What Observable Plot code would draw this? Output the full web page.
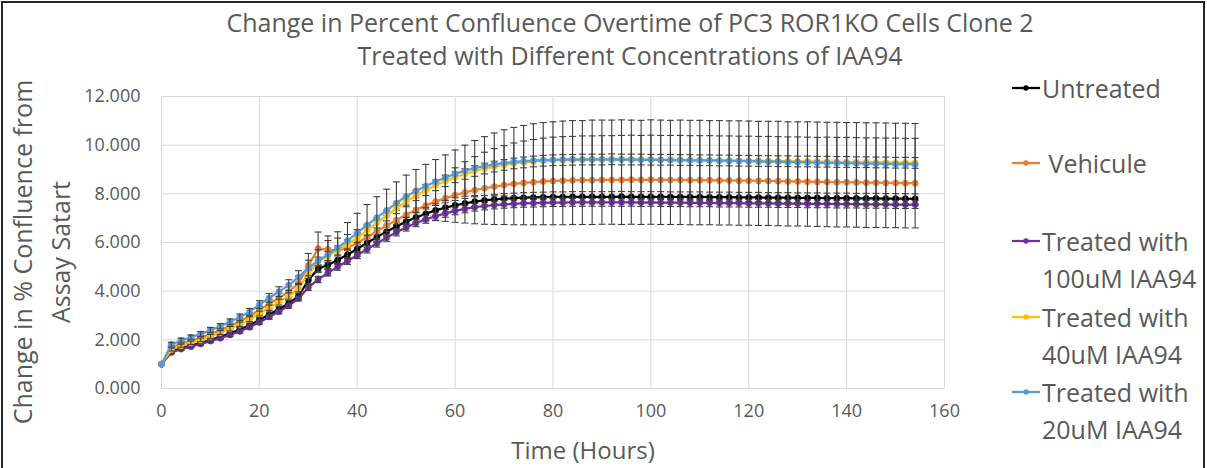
<!DOCTYPE html>
<html><head><meta charset="utf-8">
<script src="https://cdn.jsdelivr.net/npm/d3@7"></script>
<script src="https://cdn.jsdelivr.net/npm/@observablehq/plot@0.6"></script>
<style>
html,body{margin:0;padding:0;background:#fff;}
#wrap{position:relative;width:1207px;height:468px;overflow:hidden;font-family:"Open Sans",sans-serif;color:#595959;background:#fff;}
#frame{position:absolute;left:1px;top:1px;width:1204px;height:480px;border:2px solid #262626;box-sizing:border-box;pointer-events:none;}
#chart{position:absolute;left:0;top:0;}
.title{position:absolute;left:0;width:1260px;text-align:center;font-size:25px;white-space:nowrap;line-height:30px;}
#xtitle{position:absolute;left:383px;width:400px;top:437px;text-align:center;font-size:24px;line-height:26px;}
#ytitle{position:absolute;left:-169px;top:214px;width:420px;height:76px;transform:rotate(-90deg);text-align:center;font-size:25px;line-height:38px;white-space:nowrap;}
.leg{position:absolute;left:1042px;font-size:25px;line-height:37px;white-space:nowrap;}
.sw{position:absolute;left:1012px;}
</style></head>
<body>
<div id="wrap">
  <div id="chart"></div>
  <div class="title" style="top:7px">Change in Percent Confluence Overtime of PC3 ROR1KO Cells Clone 2</div>
  <div class="title" style="top:40px">Treated with Different Concentrations of IAA94</div>
  <div id="ytitle">Change in % Confluence from<br>Assay Satart</div>
  <div id="xtitle">Time (Hours)</div>
  <div id="legend"></div>
  <div id="frame"></div>
</div>
<script>
const hours = [0,2,4,6,8,10,12,14,16,18,20,22,24,26,28,30,32,34,36,38,40,42,44,46,48,50,52,54,56,58,60,62,64,66,68,70,72,74,76,78,80,82,84,86,88,90,92,94,96,98,100,102,104,106,108,110,112,114,116,118,120,122,124,126,128,130,132,134,136,138,140,142,144,146,148,150,152,154];

const untreated = [1.00,1.52,1.66,1.76,1.87,1.99,2.12,2.26,2.42,2.60,
 2.82,3.04,3.26,3.50,3.80,4.45,4.92,5.08,5.28,5.50,
 5.74,5.98,6.22,6.45,6.66,6.86,7.03,7.18,7.32,7.43,
 7.53,7.61,7.68,7.73,7.77,7.80,7.82,7.84,7.85,7.86,
 7.87,7.87,7.88,7.88,7.88,7.88,7.88,7.89,7.88,7.88,
 7.88,7.88,7.87,7.87,7.87,7.87,7.86,7.86,7.86,7.85,
 7.85,7.85,7.84,7.84,7.84,7.83,7.83,7.83,7.82,7.82,
 7.82,7.81,7.81,7.81,7.80,7.80,7.80,7.79];
const vehicule = [1.00,1.68,1.84,1.96,2.09,2.24,2.40,2.57,2.76,2.98,
 3.22,3.48,3.72,3.98,4.32,5.05,5.75,5.72,5.66,5.78,
 5.98,6.22,6.46,6.70,6.92,7.14,7.34,7.52,7.68,7.82,
 7.95,8.06,8.15,8.23,8.30,8.36,8.41,8.45,8.48,8.51,
 8.53,8.54,8.55,8.56,8.56,8.57,8.57,8.57,8.58,8.57,
 8.58,8.57,8.57,8.57,8.56,8.56,8.56,8.55,8.55,8.54,
 8.54,8.53,8.53,8.52,8.51,8.51,8.50,8.49,8.49,8.48,
 8.48,8.47,8.46,8.46,8.45,8.45,8.44,8.44];
const iaa100 = [1.00,1.48,1.62,1.72,1.83,1.95,2.07,2.20,2.35,2.52,
 2.72,2.94,3.16,3.40,3.70,4.15,4.48,4.75,5.00,5.24,
 5.48,5.72,5.96,6.20,6.42,6.62,6.80,6.95,7.08,7.20,
 7.30,7.38,7.45,7.50,7.54,7.57,7.59,7.61,7.62,7.63,
 7.64,7.64,7.65,7.65,7.65,7.65,7.65,7.65,7.65,7.64,
 7.65,7.64,7.64,7.64,7.63,7.63,7.63,7.62,7.62,7.62,
 7.61,7.61,7.61,7.60,7.60,7.60,7.59,7.59,7.59,7.58,
 7.58,7.58,7.57,7.57,7.57,7.56,7.56,7.56];
const iaa40 = [1.00,1.60,1.76,1.88,2.00,2.14,2.30,2.46,2.64,2.85,
 3.08,3.32,3.55,3.80,4.12,4.70,5.22,5.45,5.68,5.92,
 6.20,6.50,6.80,7.10,7.40,7.68,7.93,8.15,8.35,8.52,
 8.68,8.82,8.94,9.04,9.12,9.19,9.25,9.29,9.33,9.36,
 9.38,9.39,9.40,9.41,9.41,9.41,9.42,9.41,9.41,9.41,
 9.40,9.40,9.40,9.39,9.39,9.38,9.38,9.37,9.37,9.36,
 9.36,9.35,9.35,9.34,9.34,9.33,9.33,9.32,9.32,9.31,
 9.31,9.30,9.30,9.29,9.29,9.28,9.28,9.27];
const iaa20 = [1.00,1.80,1.97,2.10,2.24,2.40,2.56,2.74,2.93,3.15,
 3.45,3.72,3.98,4.25,4.58,4.95,5.25,5.50,5.78,6.08,
 6.40,6.72,7.02,7.32,7.62,7.90,8.12,8.32,8.50,8.66,
 8.82,8.95,9.06,9.14,9.21,9.27,9.31,9.34,9.37,9.39,
 9.40,9.41,9.42,9.41,9.42,9.42,9.41,9.42,9.41,9.40,
 9.41,9.40,9.39,9.39,9.38,9.38,9.37,9.36,9.35,9.35,
 9.34,9.33,9.32,9.32,9.30,9.30,9.29,9.28,9.27,9.27,
 9.26,9.25,9.24,9.24,9.23,9.22,9.22,9.21];

// standard deviations (error bars)
const untreatedSD = [0.00,0.05,0.05,0.06,0.06,0.06,0.07,0.07,0.08,0.08,
 0.09,0.10,0.10,0.11,0.12,0.15,0.16,0.16,0.17,0.17,
 0.18,0.18,0.18,0.19,0.19,0.19,0.19,0.20,0.20,0.20,
 0.20,0.20,0.20,0.20,0.21,0.21,0.21,0.21,0.21,0.21,
 0.21,0.21,0.21,0.21,0.21,0.21,0.21,0.21,0.21,0.21,
 0.21,0.21,0.21,0.21,0.21,0.21,0.21,0.21,0.21,0.21,
 0.21,0.21,0.21,0.21,0.21,0.21,0.21,0.21,0.21,0.21,
 0.21,0.21,0.21,0.21,0.21,0.21,0.21,0.21];
const vehiculeSD = [0.00,0.08,0.08,0.09,0.09,0.10,0.10,0.11,0.12,0.13,
 0.15,0.17,0.19,0.22,0.30,0.50,0.68,0.55,0.52,0.55,
 0.55,0.50,0.45,0.42,0.40,0.40,0.50,0.62,0.78,0.95,
 1.12,1.26,1.38,1.48,1.56,1.62,1.68,1.72,1.75,1.78,
 1.80,1.81,1.81,1.82,1.82,1.82,1.82,1.83,1.83,1.83,
 1.83,1.83,1.83,1.83,1.83,1.83,1.83,1.83,1.83,1.83,
 1.83,1.83,1.83,1.83,1.83,1.83,1.83,1.83,1.84,1.84,
 1.84,1.84,1.84,1.84,1.84,1.84,1.84,1.84];
const iaa100SD = [0.00,0.05,0.05,0.05,0.06,0.06,0.06,0.07,0.07,0.08,
 0.08,0.09,0.09,0.10,0.10,0.12,0.13,0.13,0.14,0.14,
 0.14,0.15,0.15,0.15,0.15,0.15,0.15,0.16,0.16,0.16,
 0.16,0.16,0.16,0.16,0.16,0.16,0.16,0.16,0.16,0.16,
 0.16,0.16,0.16,0.16,0.16,0.16,0.16,0.16,0.16,0.16,
 0.16,0.16,0.16,0.16,0.16,0.16,0.16,0.16,0.16,0.16,
 0.16,0.16,0.16,0.16,0.16,0.16,0.16,0.16,0.16,0.16,
 0.16,0.16,0.16,0.16,0.16,0.16,0.16,0.16];
const iaa40SD = [0.00,0.06,0.06,0.07,0.07,0.08,0.08,0.09,0.09,0.10,
 0.10,0.11,0.12,0.13,0.15,0.18,0.18,0.18,0.19,0.19,
 0.20,0.20,0.20,0.21,0.21,0.21,0.21,0.22,0.22,0.22,
 0.22,0.22,0.22,0.22,0.22,0.22,0.22,0.22,0.22,0.22,
 0.22,0.22,0.22,0.22,0.22,0.22,0.22,0.22,0.22,0.22,
 0.22,0.22,0.22,0.22,0.22,0.22,0.22,0.22,0.22,0.22,
 0.22,0.22,0.22,0.22,0.22,0.22,0.22,0.22,0.22,0.22,
 0.22,0.22,0.22,0.22,0.22,0.22,0.22,0.22];
const iaa20SD = [0.00,0.10,0.10,0.10,0.10,0.11,0.11,0.12,0.13,0.14,
 0.16,0.18,0.20,0.22,0.26,0.32,0.45,0.58,0.66,0.74,
 0.80,0.84,0.86,0.87,0.87,0.87,0.88,0.89,0.91,0.94,
 0.98,1.05,1.13,1.21,1.29,1.36,1.42,1.47,1.51,1.54,
 1.56,1.58,1.59,1.60,1.61,1.61,1.62,1.62,1.62,1.62,
 1.63,1.63,1.63,1.64,1.64,1.64,1.64,1.65,1.65,1.65,
 1.65,1.65,1.66,1.66,1.66,1.66,1.67,1.67,1.67,1.67,
 1.67,1.68,1.68,1.68,1.68,1.68,1.68,1.68];

const seriesNames = ["Untreated", " Vehicule", "Treated with 100uM IAA94", "Treated with 40uM IAA94", "Treated with 20uM IAA94"];
const legendLines = [["Untreated"], ["\u00a0Vehicule"], ["Treated with", "100uM IAA94"], ["Treated with", "40uM IAA94"], ["Treated with", "20uM IAA94"]];
const seriesColors = ["#000000", "#ED7D31", "#7030A0", "#FFC000", "#5B9BD5"];
const seriesValues = [untreated, vehicule, iaa100, iaa40, iaa20];
const seriesSD = [untreatedSD, vehiculeSD, iaa100SD, iaa40SD, iaa20SD];

const xTicks = [0, 20, 40, 60, 80, 100, 120, 140, 160];
const yTicks = [0, 2, 4, 6, 8, 10, 12];

const capSymbol = {draw(ctx, size) { const r = Math.sqrt(size / Math.PI); ctx.moveTo(-r, 0); ctx.lineTo(r, 0); }};

const marks = [
  Plot.ruleY(yTicks, {stroke: "#d9d9d9", strokeWidth: 1}),
  Plot.ruleX(xTicks, {stroke: "#d9d9d9", strokeWidth: 1}),
  Plot.axisY(yTicks, {tickSize: 0, tickPadding: 21, tickFormat: d => d.toFixed(3), fontSize: 18, label: null}),
  Plot.axisX(xTicks, {tickSize: 0, tickPadding: 16, tickFormat: d => String(d), fontSize: 18, label: null})
];

seriesNames.forEach((name, k) => {
  const rows = hours.map((t, i) => ({t, v: seriesValues[k][i], lo: seriesValues[k][i] - seriesSD[k][i], hi: seriesValues[k][i] + seriesSD[k][i]}));
  const err = rows.filter(d => d.hi > d.lo);
  marks.push(
    Plot.line(rows, {x: "t", y: "v", stroke: seriesColors[k], strokeWidth: 2.25}),
    Plot.dot(rows, {x: "t", y: "v", r: 3.1, fill: seriesColors[k], stroke: seriesColors[k], strokeWidth: 0.5}),
    Plot.ruleX(err, {x: "t", y1: "lo", y2: "hi", stroke: "#3f3f3f", strokeWidth: 1.1}),
    Plot.dot(err, {x: "t", y: "hi", symbol: capSymbol, r: 3.5, fill: "none", stroke: "#3f3f3f", strokeWidth: 1.1}),
    Plot.dot(err, {x: "t", y: "lo", symbol: capSymbol, r: 3.5, fill: "none", stroke: "#3f3f3f", strokeWidth: 1.1})
  );
});

const chart = Plot.plot({
  width: 1207,
  height: 468,
  marginLeft: 161,
  marginRight: 263,
  marginTop: 96,
  marginBottom: 80,
  x: {domain: [0, 160]},
  y: {domain: [0, 12]},
  style: {fontFamily: "'Open Sans', sans-serif", color: "#595959", background: "transparent", overflow: "visible"},
  marks
});
document.getElementById("chart").appendChild(chart);

// legend
const legendTops = [88, 163, 241, 317, 392];
const legend = document.getElementById("legend");
legendLines.forEach((lines, k) => {
  const cy = legendTops[k];
  const sw = document.createElementNS("http://www.w3.org/2000/svg", "svg");
  sw.setAttribute("width", 30); sw.setAttribute("height", 10);
  sw.setAttribute("class", "sw");
  sw.style.top = (cy - 5) + "px";
  sw.innerHTML = `<line x1="0" x2="28" y1="5" y2="5" stroke="${seriesColors[k]}" stroke-width="2.25"/><circle cx="14" cy="5" r="2.7" fill="${seriesColors[k]}"/>`;
  legend.appendChild(sw);
  const div = document.createElement("div");
  div.className = "leg";
  div.style.top = (cy - 18.5) + "px";
  div.innerHTML = lines.join("<br>");
  legend.appendChild(div);
});
</script>
</body></html>
